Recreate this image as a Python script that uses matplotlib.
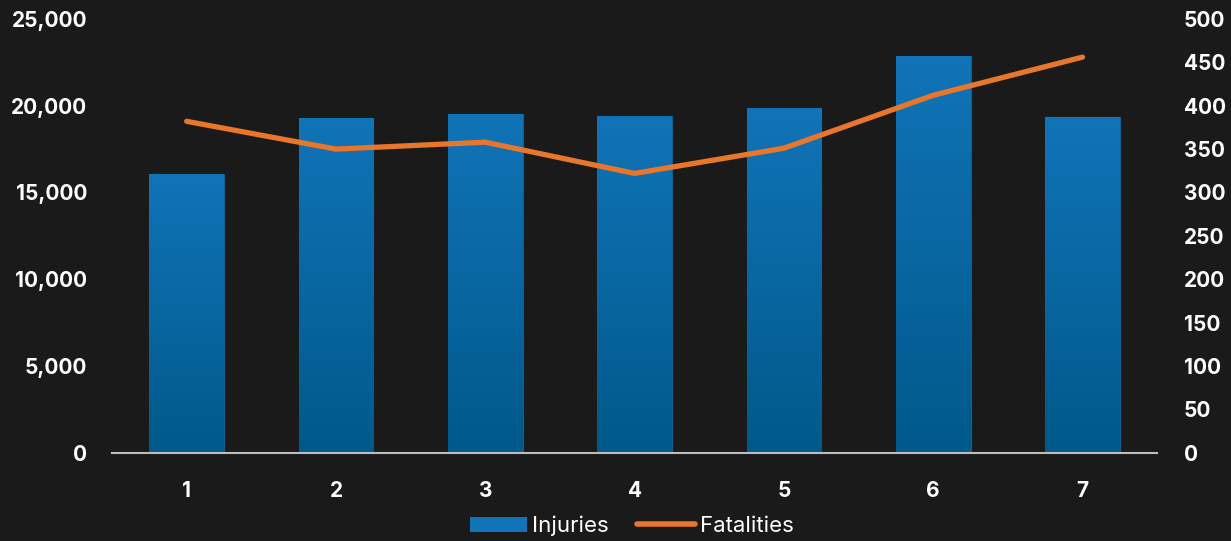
import numpy as np
import matplotlib.pyplot as plt
from matplotlib.colors import LinearSegmentedColormap
from matplotlib.lines import Line2D
from matplotlib.patches import Patch

plt.rcParams['font.family'] = ['Inter', 'DejaVu Sans']

# Data
categories = ['1', '2', '3', '4', '5', '6', '7']
injuries = [16050, 19300, 19530, 19420, 19870, 22870, 19350]
fatalities = [382, 350, 358, 322, 351, 412, 456]

bg = '#1a1a1a'
top_blue = '#1174b8'
bottom_blue = '#00598a'
orange = '#e8762b'

fig = plt.figure(figsize=(12.31, 5.41), dpi=100, facecolor=bg)
ax = fig.add_axes([0.091, 0.163, 0.849, 0.802])
ax.set_facecolor(bg)
ax2 = ax.twinx()

x = np.arange(len(categories))
bars = ax.bar(x, injuries, width=0.5, color=top_blue, edgecolor='#0d5f95',
              linewidth=0.8, zorder=2)

# vertical gradient inside each bar
cmap = LinearSegmentedColormap.from_list('bar', [bottom_blue, top_blue])
grad = np.linspace(0, 1, 256).reshape(-1, 1)
for b in bars:
    x0, y0 = b.get_x(), b.get_y()
    w, h = b.get_width(), b.get_height()
    im = ax.imshow(grad, cmap=cmap, aspect='auto', origin='lower',
                   extent=[x0, x0 + w, y0, y0 + h], zorder=2.5)
    im.set_clip_path(b)

ax2.plot(x, fatalities, color=orange, linewidth=3.8, solid_capstyle='round',
         solid_joinstyle='round', zorder=3)

ax.set_xlim(-0.5, len(categories) - 0.5)
ax.set_ylim(0, 25000)
ax2.set_ylim(0, 500)
ax.set_yticks(np.arange(0, 25001, 5000))
ax2.set_yticks(np.arange(0, 501, 50))
ax.set_yticklabels([f'{v:,}' for v in range(0, 25001, 5000)])
ax.set_xticks(x)
ax.set_xticklabels(categories)

for a in (ax, ax2):
    for s in a.spines.values():
        s.set_visible(False)
    a.tick_params(length=0, colors='white', labelsize=15)
    for lbl in a.get_xticklabels() + a.get_yticklabels():
        lbl.set_fontweight('bold')
ax.spines['bottom'].set_visible(True)
ax.spines['bottom'].set_color('#bdbdbd')
ax.spines['bottom'].set_linewidth(1.5)
ax.tick_params(axis='x', pad=20)
ax.tick_params(axis='y', pad=18)
ax2.tick_params(axis='y', pad=19)
ax2.set_zorder(ax.get_zorder() + 1)
ax2.patch.set_visible(False)

handles = [Patch(facecolor=top_blue, edgecolor='none'),
           Line2D([0], [0], color=orange, linewidth=4, solid_capstyle='round')]
fig.legend(handles, ['Injuries', 'Fatalities'], loc='center',
           bbox_to_anchor=(0.513, 0.028), ncol=2, frameon=False,
           fontsize=16, labelcolor='white', handlelength=2.6,
           handletextpad=0.2, columnspacing=1.3)

fig.savefig('out.png', dpi=100, facecolor=bg)
